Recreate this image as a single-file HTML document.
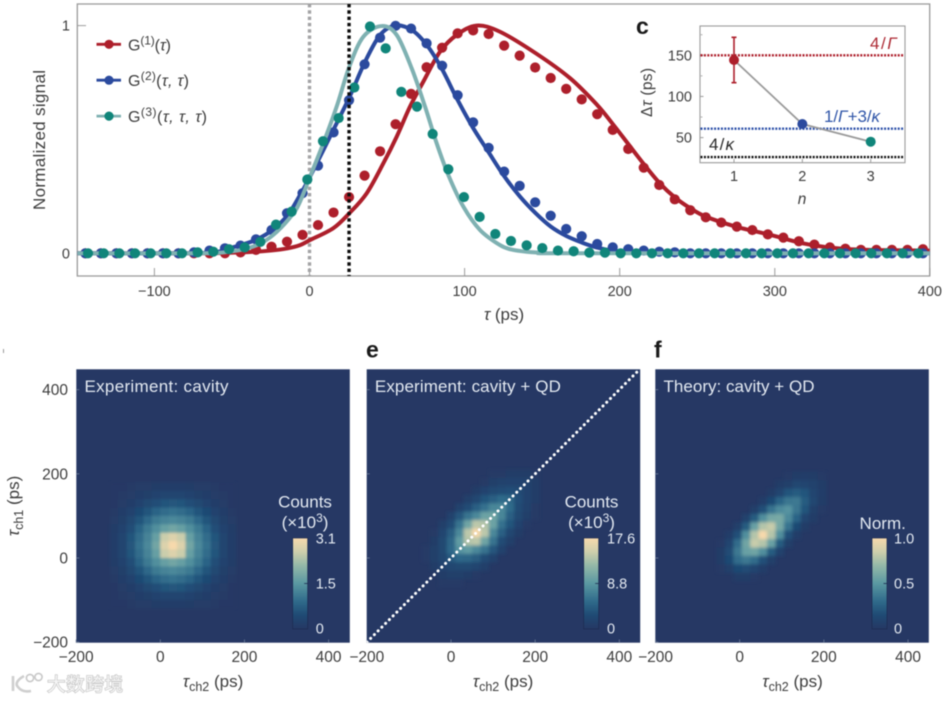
<!DOCTYPE html>
<html lang="en">
<head>
<meta charset="utf-8">
<title>Photon correlation figure</title>
<style>
html,body{margin:0;padding:0;background:#fff;width:949px;height:701px;overflow:hidden}
svg{display:block;filter:blur(0.45px)}
text{font-family:"Liberation Sans","Noto Sans CJK SC",sans-serif;fill:#3d3d3d}
.t{font-size:14.5px}
.th{font-size:15.5px}
.it{font-style:italic}
.lab{font-size:17px}
.lt{fill:#e3e9f1}
.bold{font-weight:bold;fill:#1a1a1a;font-size:23px}
</style>
</head>
<body>
<svg id="fig" xmlns="http://www.w3.org/2000/svg" width="949" height="701" viewBox="0 0 949 701">
  <defs>
    <filter id="soft-a" x="-20%" y="-20%" width="140%" height="140%"><feGaussianBlur stdDeviation="1.3"/></filter>
    <filter id="soft-b" x="-20%" y="-20%" width="140%" height="140%"><feGaussianBlur stdDeviation="1.7"/></filter>
    <linearGradient id="bar-gradient" x1="0" y1="1" x2="0" y2="0"></linearGradient>
    <clipPath id="clip-main"><rect x="77.3" y="4" width="852.4" height="272"/></clipPath>
    <clipPath id="clip-d"><rect x="76.3" y="369.3" width="273.4" height="273.4"/></clipPath>
    <clipPath id="clip-e"><rect x="366.7" y="369.3" width="273.4" height="273.4"/></clipPath>
    <clipPath id="clip-f"><rect x="655.3" y="369.3" width="273.7" height="273.4"/></clipPath>
  </defs>

  <g id="main-chart"></g>
  <g id="main-legend"></g>
  <text class="lab" x="45" y="140" transform="rotate(-90 45 140)" text-anchor="middle" textLength="140">Normalized signal</text>
  <text class="lab" x="504" y="320" text-anchor="middle"><tspan class="it">τ</tspan> (ps)</text>

  <text class="bold" x="636" y="34">c</text>
  <g id="inset"></g>
  <text x="802" y="204" text-anchor="middle" style="font-style:italic;font-size:15.5px">n</text>
  <text x="652" y="92.5" text-anchor="middle" transform="rotate(-90 652 92.5)" textLength="49" style="font-size:15.5px">Δ<tspan class="it">τ</tspan> (ps)</text>
  <text x="897" y="49" text-anchor="end" textLength="27" style="fill:#ad2a34;font-size:17px">4/<tspan class="it" style="fill:#ad2a34">Γ</tspan></text>
  <text x="824" y="122" textLength="56" style="fill:#2f55a8;font-size:17px">1/<tspan class="it" style="fill:#2f55a8">Γ</tspan>+3/<tspan class="it" style="fill:#2f55a8">κ</tspan></text>
  <text x="709" y="150" textLength="25" style="fill:#2a2a2a;font-size:17px">4/<tspan class="it" style="fill:#2a2a2a">κ</tspan></text>

  <rect x="3" y="349" width="1" height="4" fill="#999"/>
  <text class="bold" x="366" y="357.5">e</text>
  <text class="bold" x="654" y="357.5">f</text>

  <g id="panel-d"></g>
  <g id="panel-e"></g>
  <g id="panel-f"></g>

  <text class="lab" x="19" y="506" text-anchor="middle" transform="rotate(-90 19 506)"><tspan class="it">τ</tspan><tspan dy="4" font-size="12.5">ch1</tspan><tspan dy="-4"> (ps)</tspan></text>
  <text class="lab" x="213" y="687" text-anchor="middle"><tspan class="it">τ</tspan><tspan dy="4" font-size="12.5">ch2</tspan><tspan dy="-4"> (ps)</tspan></text>
  <text class="lab" x="503" y="687" text-anchor="middle"><tspan class="it">τ</tspan><tspan dy="4" font-size="12.5">ch2</tspan><tspan dy="-4"> (ps)</tspan></text>
  <text class="lab" x="792.5" y="687" text-anchor="middle"><tspan class="it">τ</tspan><tspan dy="4" font-size="12.5">ch2</tspan><tspan dy="-4"> (ps)</tspan></text>

  <g>
    <path d="M13 676v15M24 676C17 680 15 684 18 687C21 691 26 692 31 691" fill="none" stroke="#cfcfcf" stroke-width="2.6"/>
    <circle cx="30" cy="678" r="3.6" fill="#fff" stroke="#c8c8c8" stroke-width="1.6"/>
    <circle cx="38.5" cy="677" r="3.6" fill="#fff" stroke="#c8c8c8" stroke-width="1.6"/>
    <text x="47" y="691" textLength="76" style="font-size:18.5px;fill:#f6f6f6;stroke:#c4c4c4;stroke-width:1.3;paint-order:stroke">大数跨境</text>
  </g>
</svg>

<script>
/* ---------- main chart data ---------- */
const xTickValues = [-100, 0, 100, 200, 300, 400];
const yTickValues = [0, 1];
const markerLines = [0, 25.5];

const redBlueTau = [-144.5,-134.5,-124.5,-114.5,-104.5,-94.5,-84.5,-74.5,-64.5,-54.5,-44.5,-34.5,-24.5,-14.5,-4.5,5.5,15.5,25.5,35.5,45.5,55.5,65.5,75.5,85.5,95.5,105.5,115.5,125.5,135.5,145.5,155.5,165.5,175.5,185.5,195.5,205.5,215.5,225.5,235.5,245.5,255.5,265.5,275.5,285.5,295.5,305.5,315.5,325.5,335.5,345.5,355.5,365.5,375.5,385.5,395.5];
const redPoints = [0,0,0,0,0,0,0,0,0,0,.004,.015,.029,.051,.081,.124,.179,.247,.341,.448,.567,.700,.817,.903,.966,.979,.963,.912,.868,.816,.770,.722,.676,.611,.542,.458,.376,.300,.237,.189,.158,.135,.117,.102,.083,.069,.053,.038,.026,.020,.015,.015,.015,.015,.018];
const bluePoints = [0,0,0,0,0,0,0,.004,.012,.022,.034,.061,.102,.176,.264,.385,.531,.672,.830,.947,.999,.987,.922,.824,.694,.575,.463,.359,.296,.224,.165,.107,.075,.041,.026,.018,.012,.007,.004,0,0,0,0,0,0,0,0,0,0,0,0,0,0,0,0];
const tealTau = [-142.8,-132.7,-122.6,-112.5,-102.4,-92.3,-82.2,-72.1,-62,-51.9,-41.8,-31.7,-21.6,-11.5,-1.4,8.7,18.8,28.9,39,49.1,59.2,69.3,79.4,89.5,99.6,109.7,119.8,129.9,140,150.1,160.2,170.3,180.4,190.5,200.6,210.7,220.8,230.9,241,251.1,261.2,271.3,281.4,291.5,301.6,311.7,321.8,331.9,342,352.1,362.2,372.3,382.4,392.5];
const tealPoints = [0,0,0,0,0,0,0,.004,.007,.018,.026,.050,.126,.183,.324,.492,.594,.728,.996,.900,.709,.644,.524,.369,.247,.160,.085,.054,.035,.023,.012,.009,.003,.003,0,0,0,0,0,0,0,0,0,0,0,0,0,0,0,0,0,0,0,0];

const redLineTau = [-150,-80,-60,-40,-25,-14,-6.1,0.3,15.3,25.7,36.9,47.6,56.2,64.8,73.4,84.1,94.9,107.8,122.8,146,168,185.4,195.5,205.5,215.5,225.5,235.5,245.5,255.5,275,297,318,340,360,400];
const redLineVal = [0,0,.001,.005,.012,.022,.036,.058,.110,.176,.264,.395,.512,.644,.754,.885,.959,1,.973,.878,.769,.652,.568,.480,.392,.310,.246,.198,.161,.117,.081,.044,.022,.015,.012];
const blueLineTau = [-150,-80,-60,-54,-44,-34,-24,-14,-6.1,0.3,15.3,25.7,35.8,45.5,55.1,65.9,75.6,85.2,94.9,105,115.3,125.6,135.7,145.8,155.6,165.6,175.7,185,195.7,210,240,400];
const blueLineVal = [0,0,.006,.018,.037,.061,.102,.168,.256,.336,.541,.685,.841,.959,1,.981,.915,.812,.681,.556,.446,.338,.249,.176,.117,.076,.047,.026,.012,.003,0,0];
const tealLineTau = [-150,-70,-51,-41,-31,-21,-11,-6.1,0.3,8.9,17.5,25.7,34.7,46.5,56.2,65.9,74.5,82,89.5,99.2,110,122.8,130,140,152,170,400];
const tealLineVal = [0,0,.008,.020,.045,.095,.170,.227,.336,.483,.644,.820,.951,.998,.959,.812,.644,.483,.344,.205,.102,.036,.017,.007,.002,0,0];

/* ---------- inset data ---------- */
const insetN = [1, 2, 3];
const insetDelta = [144.3, 66.5, 45];
const insetErrHigh = [171.9];
const insetErrLow = [116.7];
const insetYTicks = [50, 100, 150];
const insetMinorTicks = [75, 125, 175];
const insetRefValues = [150, 60.8, 26.4];

/* ---------- heatmap data (percent of colour range, listed top row first) ---------- */
const heatXTicks = [-200, 0, 200, 400];
const heatYTicks = [-200, 0, 200, 400];
const cavityStartTau = -120;
const qdStartTau = -90;
const theoryStartTau = -95;
const heatCellTau = 20;
const cavityCells = [
[1,1,2,3,3,4,5,5,5,4,3,3,2,1,1],
[1,2,3,5,7,9,11,11,11,9,7,5,3,2,1],
[1,3,5,9,13,17,20,21,20,17,13,9,5,3,1],
[2,5,9,14,20,27,31,33,31,27,20,14,9,5,2],
[3,7,13,20,29,37,41,43,41,37,29,20,13,7,3],
[4,9,17,27,37,46,54,58,54,46,37,27,17,9,4],
[5,11,20,31,41,54,84,90,84,54,41,31,20,11,5],
[5,11,21,33,43,58,90,100,90,58,43,33,21,11,5],
[5,11,20,31,41,54,84,90,84,54,41,31,20,11,5],
[4,9,17,27,37,46,54,58,54,46,37,27,17,9,4],
[3,7,13,20,29,37,41,43,41,37,29,20,13,7,3],
[2,5,9,14,20,27,31,33,31,27,20,14,9,5,2],
[1,3,5,9,13,17,20,21,20,17,13,9,5,3,1],
[1,2,3,5,7,9,11,11,11,9,7,5,3,2,1],
[1,1,2,3,3,4,5,5,5,4,3,3,2,1,1]
];
const qdCells = [
[0,0,0,0,0,0,0,0,0,2,2,4,4,4,2],
[0,0,0,0,0,0,0,0,2,6,8,9,9,8,4],
[0,0,0,0,0,0,0,4,9,13,16,17,16,9,4],
[0,0,0,0,0,0,6,12,20,25,30,28,17,9,4],
[0,0,0,0,0,8,16,25,33,42,43,30,16,8,2],
[0,0,0,0,8,21,34,43,56,57,42,25,13,6,2],
[0,0,0,6,16,34,57,80,78,56,33,20,9,2,0],
[0,0,2,11,24,43,80,100,80,43,25,12,4,0,0],
[0,0,4,13,28,52,78,80,57,34,16,6,0,0,0],
[0,2,6,13,29,48,52,43,34,21,8,0,0,0,0],
[0,2,6,12,22,29,28,24,16,8,0,0,0,0,0],
[0,0,4,9,12,13,13,10,6,0,0,0,0,0,0],
[0,0,0,4,6,6,4,2,0,0,0,0,0,0,0],
[0,0,0,2,2,2,0,0,0,0,0,0,0,0,0],
[0,0,0,0,0,0,0,0,0,0,0,0,0,0,0]
];
const theoryCells = [
[0,0,0,0,0,0,0,0,0,0,2,4,5,4,2],
[0,0,0,0,0,0,0,0,0,4,6,12,10,8,4],
[0,0,0,0,0,0,0,0,4,10,20,23,20,10,5],
[0,0,0,0,0,0,0,5,14,27,35,36,23,12,4],
[0,0,0,0,0,0,6,18,34,44,48,35,20,6,2],
[0,0,0,0,0,8,23,46,59,60,44,27,10,4,0],
[0,0,0,0,6,23,55,78,83,59,34,14,4,0,0],
[0,0,0,5,18,46,78,100,78,46,18,5,0,0,0],
[0,0,2,10,31,57,83,78,55,23,6,0,0,0,0],
[0,0,4,16,36,55,57,46,23,8,0,0,0,0,0],
[0,0,4,14,31,36,31,18,6,0,0,0,0,0,0],
[0,0,2,6,14,16,10,5,0,0,0,0,0,0,0],
[0,0,0,0,4,4,2,0,0,0,0,0,0,0,0],
[0,0,0,0,0,0,0,0,0,0,0,0,0,0,0],
[0,0,0,0,0,0,0,0,0,0,0,0,0,0,0]
];
const cavityBarLabels = ['3.1', '1.5', '0'];
const qdBarLabels = ['17.6', '8.8', '0'];
const theoryBarLabels = ['1.0', '0.5', '0'];

/* ---------- helpers ---------- */
const NS = 'http://www.w3.org/2000/svg';
function make(tag, attrs, parent) {
  const n = document.createElementNS(NS, tag);
  for (const k in attrs) n.setAttribute(k, attrs[k]);
  parent.appendChild(n);
  return n;
}
function fmt(v) { return String(v).replace('-', '\u2212'); }
function smoothPath(xs, ys) {
  let d = 'M' + xs[0].toFixed(2) + ' ' + ys[0].toFixed(2);
  for (let i = 0; i < xs.length - 1; i++) {
    const p = Math.max(i - 1, 0), n = Math.min(i + 2, xs.length - 1);
    const c1x = xs[i] + (xs[i + 1] - xs[p]) / 6, c1y = ys[i] + (ys[i + 1] - ys[p]) / 6;
    const c2x = xs[i + 1] - (xs[n] - xs[i]) / 6, c2y = ys[i + 1] - (ys[n] - ys[i]) / 6;
    d += 'C' + c1x.toFixed(2) + ' ' + c1y.toFixed(2) + ' ' + c2x.toFixed(2) + ' ' + c2y.toFixed(2) + ' ' + xs[i + 1].toFixed(2) + ' ' + ys[i + 1].toFixed(2);
  }
  return d;
}
const RED = '#ad1f2b', BLUE = '#2b4a9e', TEAL = '#10857a', TEAL_LINE = '#7fb1b2';

/* ---------- main chart ---------- */
const xMain = t => 309.5 + t * 1.551;
const yMain = v => 253.3 - v * 227.7;
const mainG = document.getElementById('main-chart');

const frame = make('rect', {x:77.3, y:4, width:852.4, height:272, fill:'#fff', stroke:'#9b9b9b', 'stroke-width':1.3}, mainG);



xTickValues.forEach(v => {
  const tick = make('line', {x1:xMain(v), x2:xMain(v), y1:276, y2:268, stroke:'#9b9b9b', 'stroke-width':1}, mainG);
  
  
  const lab = make('text', {x:xMain(v), y:296, 'text-anchor':'middle', class:'t'}, mainG);
  lab.textContent = fmt(v);
  
  
});
yTickValues.forEach(v => {
  const tick = make('line', {x1:77.3, x2:86, y1:yMain(v), y2:yMain(v), stroke:'#9b9b9b', 'stroke-width':1}, mainG);
  
  
  const lab = make('text', {x:70, y:yMain(v) + 5, 'text-anchor':'end', class:'t'}, mainG);
  lab.textContent = fmt(v);
  
  
});

const grayMarker = make('line', {x1:xMain(markerLines[0]), x2:xMain(markerLines[0]), y1:4, y2:276, stroke:'#a3a3a5', 'stroke-width':3.4, 'stroke-dasharray':'3.4 2.9'}, mainG);



const plotG = make('g', {'clip-path':'url(#clip-main)'}, mainG);



function drawSeries(name, lineTau, lineVal, lineColor, tau, pts, ptColor) {
  const line = make('path', {d:smoothPath(lineTau.map(xMain), lineVal.map(yMain)), fill:'none', stroke:lineColor, 'stroke-width':4, 'stroke-linejoin':'round'}, plotG);
  
  
  pts.forEach((v, i) => {
    const c = make('circle', {cx:xMain(tau[i]), cy:yMain(v), r:5.1, fill:ptColor}, plotG);
    
    
  });
}
drawSeries('g1', redLineTau, redLineVal, RED, redBlueTau, redPoints, RED);
drawSeries('g2', blueLineTau, blueLineVal, BLUE, redBlueTau, bluePoints, BLUE);
drawSeries('g3', tealLineTau, tealLineVal, TEAL_LINE, tealTau, tealPoints, TEAL);

const blackMarker = make('line', {x1:xMain(markerLines[1]), x2:xMain(markerLines[1]), y1:4, y2:276, stroke:'#0c0c0c', 'stroke-width':3.4, 'stroke-dasharray':'3.4 2.9'}, mainG);



/* ---------- legend ---------- */
const legendG = document.getElementById('main-legend');
const legendNames = ['legend-entry-g1', 'legend-entry-g2', 'legend-entry-g3'];
const legendColors = [[RED, RED], [BLUE, BLUE], [TEAL_LINE, TEAL]];
const legendOrders = ['(1)', '(2)', '(3)'];
const legendArgs = ['τ', 'τ, τ', 'τ, τ, τ'];
const legendWidths = [43, 61, 79];
legendNames.forEach((nm, i) => {
  const yy = 44.3 + i * 35.9;
  const g = make('g', {}, legendG);
  
  
  make('line', {x1:96.5, x2:121, y1:yy, y2:yy, stroke:legendColors[i][0], 'stroke-width':2.8}, g);
  make('circle', {cx:109, cy:yy, r:4.6, fill:legendColors[i][1]}, g);
  const t = make('text', {x:128, y:yy + 6, textLength:legendWidths[i], style:'font-size:16px'}, g);
  const a = make('tspan', {}, t); a.textContent = 'G';
  const b = make('tspan', {dy:-6, 'font-size':12}, t); b.textContent = legendOrders[i];
  const c = make('tspan', {dy:6}, t); c.textContent = '(';
  const d = make('tspan', {class:'it'}, t); d.textContent = legendArgs[i];
  const e = make('tspan', {}, t); e.textContent = ')';
});

/* ---------- inset ---------- */
const xIn = n => 734 + (n - 1) * 68.35;
const yIn = v => 55.3 + (150 - v) * 0.823;
const inG = document.getElementById('inset');

const inFrame = make('rect', {x:700, y:26, width:205, height:136.7, fill:'#fff', stroke:'#9b9b9b', 'stroke-width':1.1}, inG);



insetN.forEach(n => {
  const tk = make('line', {x1:xIn(n), x2:xIn(n), y1:162.7, y2:159, stroke:'#9b9b9b'}, inG);
  
  
  const lab = make('text', {x:xIn(n), y:181, 'text-anchor':'middle', class:'t'}, inG);
  lab.textContent = n;
  
  
});
insetYTicks.forEach(v => {
  const tk = make('line', {x1:700, x2:703.5, y1:yIn(v), y2:yIn(v), stroke:'#9b9b9b'}, inG);
  
  
  const lab = make('text', {x:692, y:yIn(v) + 5, 'text-anchor':'end', class:'t'}, inG);
  lab.textContent = v;
  
  
});
insetMinorTicks.forEach(v => {
  const tk = make('line', {x1:700, x2:702.5, y1:yIn(v), y2:yIn(v), stroke:'#b0b0b0'}, inG);
  
  
});
const refColors = ['#ad1f2b', '#2b4fa8', '#0f0f0f'];
const refNames = ['ref-line-4-gamma', 'ref-line-gamma-kappa', 'ref-line-4-kappa'];
insetRefValues.forEach((v, i) => {
  const l = make('line', {x1:700.5, x2:904.5, y1:yIn(v), y2:yIn(v), stroke:refColors[i], 'stroke-width':2.4, 'stroke-dasharray':'2 1.4'}, inG);
  
  
});
const inLine = make('polyline', {points:insetN.map((n, i) => xIn(n) + ',' + yIn(insetDelta[i])).join(' '), fill:'none', stroke:'#9a9a9a', 'stroke-width':1.8}, inG);


const errBar = make('path', {d:'M' + (xIn(1) - 2.5) + ' ' + yIn(insetErrHigh[0]) + 'h5M' + xIn(1) + ' ' + yIn(insetErrHigh[0]) + 'V' + yIn(insetErrLow[0]) + 'M' + (xIn(1) - 2.5) + ' ' + yIn(insetErrLow[0]) + 'h5', fill:'none', stroke:RED, 'stroke-width':1.6}, inG);


const inColors = [RED, BLUE, TEAL];
insetN.forEach((n, i) => {
  const c = make('circle', {cx:xIn(n), cy:yIn(insetDelta[i]), r:5, fill:inColors[i]}, inG);
  
  
});

/* ---------- heatmaps ---------- */
const stopPos = [0, .15, .3, .5, .7, .85, 1];
const stopRgb = [[38,56,100],[31,74,116],[47,106,138],[90,152,162],[149,185,168],[207,207,172],[247,217,172]];
function heatColor(v) {
  let i = 0;
  while (i < stopPos.length - 2 && v > stopPos[i + 1]) i++;
  const f = Math.min(1, Math.max(0, (v - stopPos[i]) / (stopPos[i + 1] - stopPos[i])));
  const c = stopRgb[i].map((a, k) => Math.round(a + (stopRgb[i + 1][k] - a) * f));
  return 'rgb(' + c.join(',') + ')';
}
const grad = document.getElementById('bar-gradient');
stopPos.forEach((p, i) => make('stop', {offset:p, 'stop-color':heatColor(p)}, grad));

const HEAT_K = 0.4208, HEAT_Y0 = 558;
function drawHeatmap(id, panelLeft, tauZero, cells, startTau, blurId, clipId, title, titleW, barLeft, barLabels, barLabelX, barTitle, barCx) {
  const root = document.getElementById(id);
  const xH = t => tauZero + t * HEAT_K;
  const yH = t => HEAT_Y0 - t * HEAT_K;

  const bg = make('rect', {x:panelLeft, y:369.3, width:273.5, height:273.4, fill:heatColor(0)}, root);
  
  

  const clipG = make('g', {'clip-path':'url(#' + clipId + ')'}, root);
  
  
  const cellG = make('g', {filter:'url(#' + blurId + ')'}, clipG);
  
  
  const nRows = cells.length;
  cells.forEach((row, r) => {
    row.forEach((v, c) => {
      if (v === 0) return;
      const tx = startTau + c * heatCellTau;
      const ty = startTau + (nRows - r) * heatCellTau;
      const cell = make('rect', {x:xH(tx), y:yH(ty), width:heatCellTau * HEAT_K + .3, height:heatCellTau * HEAT_K + .3, fill:heatColor(v / 100)}, cellG);
      
      
    });
  });

  heatXTicks.forEach(v => {
    const tk = make('line', {x1:xH(v), x2:xH(v), y1:642.7, y2:639.5, stroke:'#6d7c98', 'stroke-width':.8}, root);
    
    
    const lab = make('text', {x:xH(v), y:662, 'text-anchor':'middle', class:'th'}, root);
    lab.textContent = fmt(v);
    
    
  });
  heatYTicks.forEach(v => {
    const tk = make('line', {x1:panelLeft, x2:panelLeft + 3, y1:yH(v), y2:yH(v), stroke:'#6d7c98', 'stroke-width':.8}, root);
    
    
    if (id === 'panel-d') {
      const lab = make('text', {x:68, y:yH(v) + 5.5, 'text-anchor':'end', class:'th'}, root);
      lab.textContent = fmt(v);
      
      
    }
  });

  const tt = make('text', {x:panelLeft + 8.2, y:392, class:'lt', textLength:titleW, style:'font-size:17px'}, root);
  tt.textContent = title;
  
  

  const bar = make('rect', {x:barLeft, y:538, width:15, height:91, fill:'url(#bar-gradient)', stroke:'#1d2b50', 'stroke-width':.7}, root);
  
  
  const barTick = make('line', {x1:barLeft + 11.5, x2:barLeft + 15, y1:583.5, y2:583.5, stroke:'#1d2b50', 'stroke-width':.8}, root);
  
  
  barLabels.forEach((s, i) => {
    const lab = make('text', {x:barLabelX, y:543.5 + i * 44.9, class:'lt', style:'font-size:14.5px'}, root);
    lab.textContent = s;
    
    
  });
  barTitle.forEach((s, i) => {
    const lab = make('text', {x:barCx, y:(barTitle.length === 1 ? 529 : 507.5 + i * 20.5), 'text-anchor':'middle', class:'lt', style:'font-size:17px'}, root);
    if (s === 'exp') {
      const a = make('tspan', {class:'lt'}, lab); a.textContent = '(×10';
      const b = make('tspan', {class:'lt', dy:-6, 'font-size':12}, lab); b.textContent = '3';
      const c = make('tspan', {class:'lt', dy:6}, lab); c.textContent = ')';
    } else {
      lab.textContent = s;
    }
    
    
  });
}
drawHeatmap('panel-d', 76.3, 160.3, cavityCells, cavityStartTau, 'soft-a', 'clip-d', 'Experiment: cavity', 144, 292.7, cavityBarLabels, 315.7, ['Counts', 'exp'], 305);
drawHeatmap('panel-e', 366.7, 451, qdCells, qdStartTau, 'soft-b', 'clip-e', 'Experiment: cavity + QD', 186, 583.7, qdBarLabels, 607, ['Counts', 'exp'], 591.5);
drawHeatmap('panel-f', 655.3, 739.7, theoryCells, theoryStartTau, 'soft-b', 'clip-f', 'Theory: cavity + QD', 151, 872, theoryBarLabels, 894, ['Norm.'], 882.7);

const panelE = document.getElementById('panel-e');
const diag = make('line', {x1:451 + (-200) * HEAT_K, y1:HEAT_Y0 + 200 * HEAT_K, x2:451 + 450 * HEAT_K, y2:HEAT_Y0 - 450 * HEAT_K, stroke:'#ffffff', 'stroke-width':3, 'stroke-linecap':'round', 'stroke-dasharray':'0.1 5.2', 'clip-path':'url(#clip-e)'}, panelE);


</script>
</body>
</html>
